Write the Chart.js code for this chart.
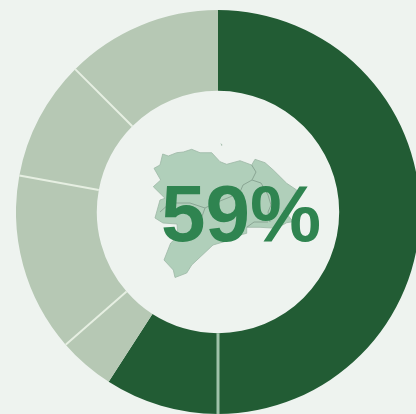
<!DOCTYPE html>
<html>
<head>
<meta charset="utf-8">
<title>59%</title>
<script src="https://cdn.jsdelivr.net/npm/chart.js@4"></script>
<style>
  html, body { margin: 0; padding: 0; width: 416px; height: 414px; overflow: hidden; background: #eef3ef; }
  #map { position: absolute; left: 0; top: 0; }
  #donut { position: absolute; left: 16px; top: 10px; }
  #pct {
    position: absolute; left: 0; top: 168px; width: 482px; text-align: center;
    font: bold 80px/92px "Liberation Sans", Arial, sans-serif; color: #2f8450;
  }
</style>
</head>
<body>
<!-- region outline, just background decoration -->
<svg id="map" width="416" height="414" viewBox="0 0 416 414">
  <path fill="#b0cfba" stroke="#9db8a6" stroke-width="0.8" d="M162.7 154 L168.3 156 L176.7 152.7 L183.3 152 L191.7 149.3 L200 152.7 L211.7 152.7 L220 161.7 L226.7 164.3 L240 160.7 L251.7 165 L255 159.3 L265 162.7 L273.3 170 L286.7 183.3 L296.7 190 L291.7 200 L283.3 210 L293.3 221.7 L286.7 222.7 L276.7 228.3 L260 227.3 L246.7 227.3 L246.7 233.3 L240 235 L230 240 L213 245 L191.7 265 L186.7 273 L175 277.5 L173.3 270 L164 260 L170.7 243 L178 236 L177 224 L163 223 L155 218 L160 200 L165 198.3 L153.3 186.7 L160.7 180 L154 168.3 L160 165 Z"/>
  <path fill="none" stroke="#8aa694" stroke-width="1" d="M251.7 165 L256 172 L252 180 L243 185 L240 192 L230 197 L215 203 L205 208 L190 203 L170 203 L160 212 M252 180 L261 183 L268 195 L271 205 L268 212 L270 222 M246.7 227.3 L254 222 L268 222 M205 208 L200 222"/>
  <path fill="#9db8a6" d="M220.5 143 L222.5 145 L221.5 146 Z"/>
</svg>
<canvas id="donut" width="404" height="404"></canvas>
<div id="pct">59%</div>
<script>
document.addEventListener('DOMContentLoaded', function () {

  const segments = ['A', 'B', 'C', 'D', 'E', 'F'];
  const shares = [50, 9.1, 4.5, 14.3, 9.6, 12.5];
  const segmentColors = ['#225c34', '#225c34', '#b6c8b4', '#b6c8b4', '#b6c8b4', '#b6c8b4'];

  // thin lines at the end of these segments
  const dividerAfter = [0, 2, 3, 4];
  const dividerColors = ['#9fc2a9', '#e6efe2', '#e6efe2', '#e6efe2'];
  const dividerWidths = [3, 2, 2, 2];

  const dividers = {
    id: 'dividers',
    afterDatasetsDraw: function (chart) {
      const arcs = chart.getDatasetMeta(0).data;
      const ctx = chart.ctx;
      ctx.save();
      dividerAfter.forEach(function (idx, i) {
        const arc = arcs[idx];
        const a = arc.endAngle;
        ctx.lineWidth = dividerWidths[i];
        ctx.strokeStyle = dividerColors[i];
        ctx.beginPath();
        ctx.moveTo(arc.x + Math.cos(a) * arc.innerRadius, arc.y + Math.sin(a) * arc.innerRadius);
        ctx.lineTo(arc.x + Math.cos(a) * arc.outerRadius, arc.y + Math.sin(a) * arc.outerRadius);
        ctx.stroke();
      });
      ctx.restore();
    }
  };

  new Chart(document.getElementById('donut'), {
    type: 'doughnut',
    data: {
      labels: segments,
      datasets: [{
        data: shares,
        backgroundColor: segmentColors,
        borderWidth: 0
      }]
    },
    options: {
      responsive: false,
      animation: false,
      cutout: '60%',
      layout: { padding: 0 },
      plugins: {
        legend: { display: false },
        tooltip: { enabled: false }
      }
    },
    plugins: [dividers]
  });

});
</script>
</body>
</html>
